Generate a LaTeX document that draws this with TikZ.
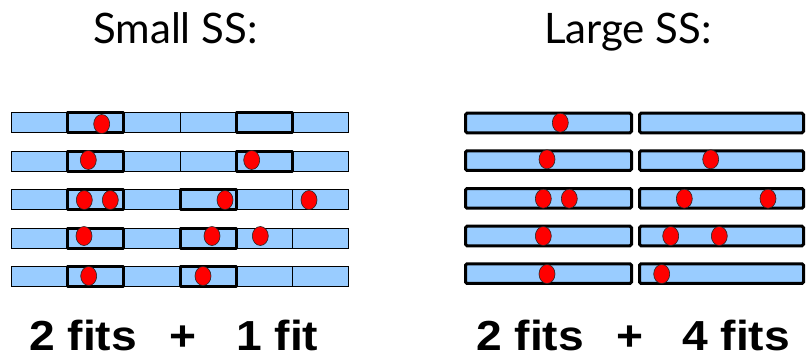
\documentclass[tikz,border=0pt]{standalone}
\usepackage{fontspec}
\usepackage{graphicx}
\setmainfont{Liberation Sans}
\newfontfamily\titlefont{Lato}
\definecolor{barblue}{RGB}{153,204,255}
\definecolor{dotred}{RGB}{255,0,0}
\newcommand{\wideres}[1]{\scalebox{1.1}[1]{#1}}
\tikzset{
  thinbar/.style={fill=barblue, draw=black, line width=0.8pt},
  divider/.style={draw=black, line width=0.8pt},
  fitbox/.style={draw=black, line width=3pt, line join=round},
  bigbar/.style={fill=barblue, draw=black, line width=3pt, rounded corners=1.5pt},
  reddot/.style={fill=dotred, draw=black!85, line width=0.6pt},
  title/.style={font=\titlefont\fontsize{42}{48}\selectfont, inner sep=0pt, anchor=base west},
  result/.style={font=\bfseries\fontsize{42}{48}\selectfont, inner sep=0pt, text depth=0pt, anchor=base west}
}
\begin{document}
\begin{tikzpicture}[x=1pt,y=-1pt]
\useasboundingbox (0,0) rectangle (806,356);
% titles
\node[title] (tsmall) at (93,43) {Small SS:};
\node[title] (tlarge) at (544,43) {Large SS:};
% small SS bars
\foreach \c in {122,161,199.5,238,276.5} {
  \draw[thinbar] (11,\c-10) rectangle (348,\c+10);
  \foreach \xx in {67,123,180,236,292}
    \draw[divider] (\xx,\c-10) -- (\xx,\c+10);
}
% fit boxes (small)
\foreach \c in {122,161} {
  \draw[fitbox] (67,\c-10) rectangle (123,\c+10);
  \draw[fitbox] (236,\c-10) rectangle (292,\c+10);
}
\foreach \c in {199.5,238,276.5} {
  \draw[fitbox] (67,\c-10) rectangle (123,\c+10);
  \draw[fitbox] (180,\c-10) rectangle (236,\c+10);
}
% large SS bars
\foreach \c in {123,160.6,198.4,236,273.6} {
  \draw[bigbar] (465.5,\c-9.8) rectangle (631.5,\c+9.8);
  \draw[bigbar] (639.5,\c-9.8) rectangle (803.5,\c+9.8);
}
% dots small
\foreach \p in {(101.7,124),(88.3,160),(251.7,160),(84.3,200),(110.3,200),(225,200),(309,200),(84,236),(212,236),(260.3,236),(88.7,276),(203,276)}
  \draw[reddot] \p ellipse [x radius=8, y radius=9.5];
% dots large
\foreach \p in {(560.3,122.7),(547,159.3),(710.7,159.3),(543.3,198.7),(569.3,198.7),(684.3,198.7),(768,198.7),(543.3,236),(670.7,236),(719.3,236),(547,274),(661.7,274)}
  \draw[reddot] \p ellipse [x radius=8, y radius=9.5];
% results
\node[result] (ls1) at (29,350) {\wideres{2 fits}};
\node[result] (lplus) at (169,350) {\wideres{+}};
\node[result] (ls2) at (236,350) {\wideres{1 fit}};
\node[result] (rs1) at (476,350) {\wideres{2 fits}};
\node[result] (rplus) at (616,350) {\wideres{+}};
\node[result] (rs2) at (682,350) {\wideres{4 fits}};
\end{tikzpicture}
\end{document}
